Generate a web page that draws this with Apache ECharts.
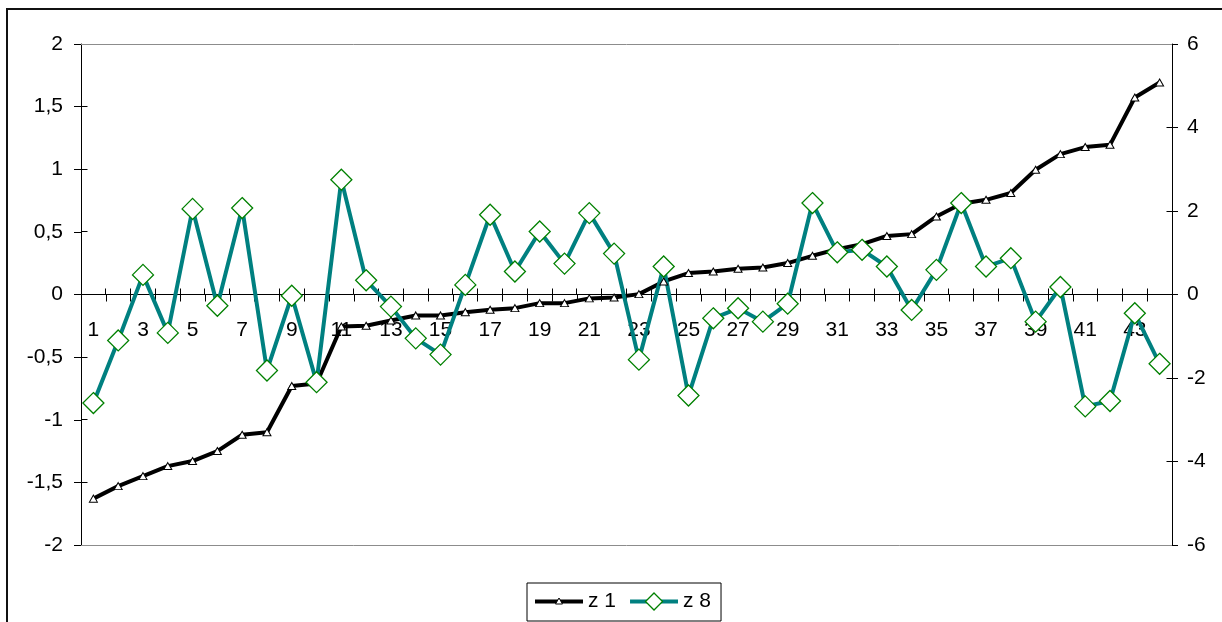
<!DOCTYPE html>
<html>
<head>
<meta charset="utf-8">
<title>z 1 / z 8</title>
<script src="https://cdn.jsdelivr.net/npm/echarts@6/dist/echarts.min.js"></script>
<style>
  html, body { margin: 0; padding: 0; background: #fff; }
  #chart { width: 1222px; height: 622px; }
</style>
</head>
<body>
<div id="chart"></div>
<script>
// Observation index (1..44)
const categories = ['1','2','3','4','5','6','7','8','9','10','11','12','13','14','15','16','17','18','19','20','21','22',
  '23','24','25','26','27','28','29','30','31','32','33','34','35','36','37','38','39','40','41','42','43','44'];

// z 1 — sorted values, left axis
const z1 = [-1.63, -1.53, -1.45, -1.37, -1.33, -1.25, -1.12, -1.10, -0.73, -0.71, -0.255, -0.25,
  -0.207, -0.167, -0.167, -0.141, -0.122, -0.109, -0.069, -0.069, -0.031, -0.024,
  0.003, 0.104, 0.171, 0.184, 0.205, 0.216, 0.251, 0.309, 0.362, 0.402,
  0.467, 0.482, 0.623, 0.724, 0.756, 0.81, 0.996, 1.121, 1.177, 1.195, 1.573, 1.693];

// z 8 — right axis
const z8 = [-2.60, -1.10, 0.47, -0.92, 2.05, -0.27, 2.07, -1.82, -0.03, -2.10, 2.75, 0.34,
  -0.29, -1.05, -1.44, 0.23, 1.91, 0.55, 1.51, 0.74, 1.95, 0.98,
  -1.56, 0.67, -2.42, -0.57, -0.33, -0.65, -0.22, 2.19, 1.01, 1.07,
  0.67, -0.37, 0.59, 2.19, 0.67, 0.87, -0.65, 0.18, -2.68, -2.55, -0.45, -1.66];

// Tick values of both value axes
const leftTicks = [-2, -1.5, -1, -0.5, 0, 0.5, 1, 1.5, 2];
const rightTicks = [-6, -4, -2, 0, 2, 4, 6];

const FONT = "'Liberation Sans', Arial, sans-serif";
const TEAL = '#008080';
const GREEN = '#008000';

function svgIcon(body) {
  return 'image://data:image/svg+xml;charset=utf-8,' + encodeURIComponent(
    '<svg xmlns="http://www.w3.org/2000/svg" width="48" height="20" viewBox="0 0 48 20">' + body + '</svg>');
}
const iconZ1 = svgIcon(
  '<line x1="0" y1="10" x2="48" y2="10" stroke="#000" stroke-width="4"/>' +
  '<polygon points="24,6.5 27.5,12.5 20.5,12.5" fill="#fff" stroke="#000" stroke-width="1"/>');
const iconZ8 = svgIcon(
  '<line x1="0" y1="10" x2="48" y2="10" stroke="' + TEAL + '" stroke-width="4"/>' +
  '<polygon points="24,1.5 32.5,10 24,18.5 15.5,10" fill="#fff" stroke="' + GREEN + '" stroke-width="1.3"/>');

const commaFmt = v => String(v).replace('.', ',');
const crisp = v => Math.round(v - 0.5) + 0.5;
const tickLine = (x1, y1, x2, y2) => ({
  type: 'line', silent: true,
  shape: { x1: x1, y1: y1, x2: x2, y2: y2 },
  style: { stroke: '#000', lineWidth: 1 }
});

const chart = echarts.init(document.getElementById('chart'), null, { renderer: 'canvas' });

chart.setOption({
  animation: false,
  backgroundColor: '#fff',
  textStyle: { fontFamily: FONT },
  grid: { left: 81, right: 50, top: 44, height: 501 },
  graphic: [{
    type: 'rect', silent: true,
    shape: { x: 7, y: 9, width: 1240, height: 640 },
    style: { fill: null, stroke: '#111', lineWidth: 2 }
  }],
  legend: {
    left: 527, top: 583,
    padding: [8, 10, 9, 8],
    borderColor: '#000', borderWidth: 1, borderRadius: 0,
    itemWidth: 48, itemHeight: 20, itemGap: 14,
    textStyle: { fontSize: 21, color: '#000', fontFamily: FONT },
    data: [
      { name: 'z 1', icon: iconZ1 },
      { name: 'z 8', icon: iconZ8 }
    ]
  },
  xAxis: {
    type: 'category', data: categories,
    axisLine: { onZero: true, lineStyle: { color: '#000', width: 1 } },
    axisTick: { show: true, interval: 0, inside: false, length: 7, lineStyle: { color: '#000' } },
    // labels sit just under the zero line
    axisLabel: { interval: 1, margin: -225, fontSize: 21, color: '#000', fontFamily: FONT },
    splitLine: { show: false }
  },
  yAxis: [
    {
      type: 'value', position: 'left', min: -2, max: 2, interval: 0.5,
      splitLine: { show: false },
      axisLine: { show: true, lineStyle: { color: '#000', width: 1 } },
      axisTick: { show: true, inside: false, length: 7, lineStyle: { color: '#000' } },
      axisLabel: { margin: 18, fontSize: 21, color: '#000', fontFamily: FONT, formatter: commaFmt }
    },
    {
      type: 'value', position: 'right', min: -6, max: 6, interval: 2,
      splitLine: { show: false },
      axisLine: { show: true, lineStyle: { color: '#000', width: 1 } },
      axisTick: { show: true, inside: false, length: 6, lineStyle: { color: '#000' } },
      axisLabel: { margin: 15, fontSize: 21, color: '#000', fontFamily: FONT, formatter: commaFmt }
    }
  ],
  series: [
    // upper halves of the category tick marks (between categories)
    {
      type: 'custom', silent: true, clip: false, yAxisIndex: 0, z: 1,
      data: categories.map((c, i) => [i, 0]),
      renderItem: (params, api) => {
        const i = api.value(0);
        if (i === 0) return null;
        const p = api.coord([i, 0]);
        const x = crisp(p[0] - api.size([1, 0])[0] / 2);
        const y = crisp(p[1]);
        return tickLine(x, y - 6, x, y);
      }
    },
    // inner halves of the left axis ticks
    {
      type: 'custom', silent: true, clip: false, yAxisIndex: 0, z: 1,
      data: leftTicks.map(v => [0, v]),
      renderItem: (params, api) => {
        const y = crisp(api.coord([0, api.value(1)])[1]);
        const x = crisp(params.coordSys.x);
        return tickLine(x, y, x + 6, y);
      }
    },
    // inner halves of the right axis ticks
    {
      type: 'custom', silent: true, clip: false, yAxisIndex: 1, z: 1,
      data: rightTicks.map(v => [0, v]),
      renderItem: (params, api) => {
        const y = crisp(api.coord([0, api.value(1)])[1]);
        const x = crisp(params.coordSys.x + params.coordSys.width);
        return tickLine(x - 6, y, x, y);
      }
    },
    {
      name: 'z 1', type: 'line', data: z1, yAxisIndex: 0,
      symbol: 'triangle', symbolSize: [8, 7], showAllSymbol: true,
      lineStyle: { color: '#000', width: 4 },
      itemStyle: { color: '#fff', borderColor: '#000', borderWidth: 1 },
      emphasis: { disabled: true },
      // plot-area top and bottom edges
      markLine: {
        silent: true, symbol: 'none', label: { show: false },
        lineStyle: { color: '#8c8c8c', width: 1, type: 'solid' },
        data: [{ yAxis: leftTicks[leftTicks.length - 1] }, { yAxis: leftTicks[0] }]
      }
    },
    {
      name: 'z 8', type: 'line', data: z8, yAxisIndex: 1,
      symbol: 'diamond', symbolSize: 21, showAllSymbol: true,
      lineStyle: { color: TEAL, width: 4 },
      itemStyle: { color: '#fff', borderColor: GREEN, borderWidth: 1.3 },
      emphasis: { disabled: true }
    }
  ]
});
</script>
</body>
</html>
